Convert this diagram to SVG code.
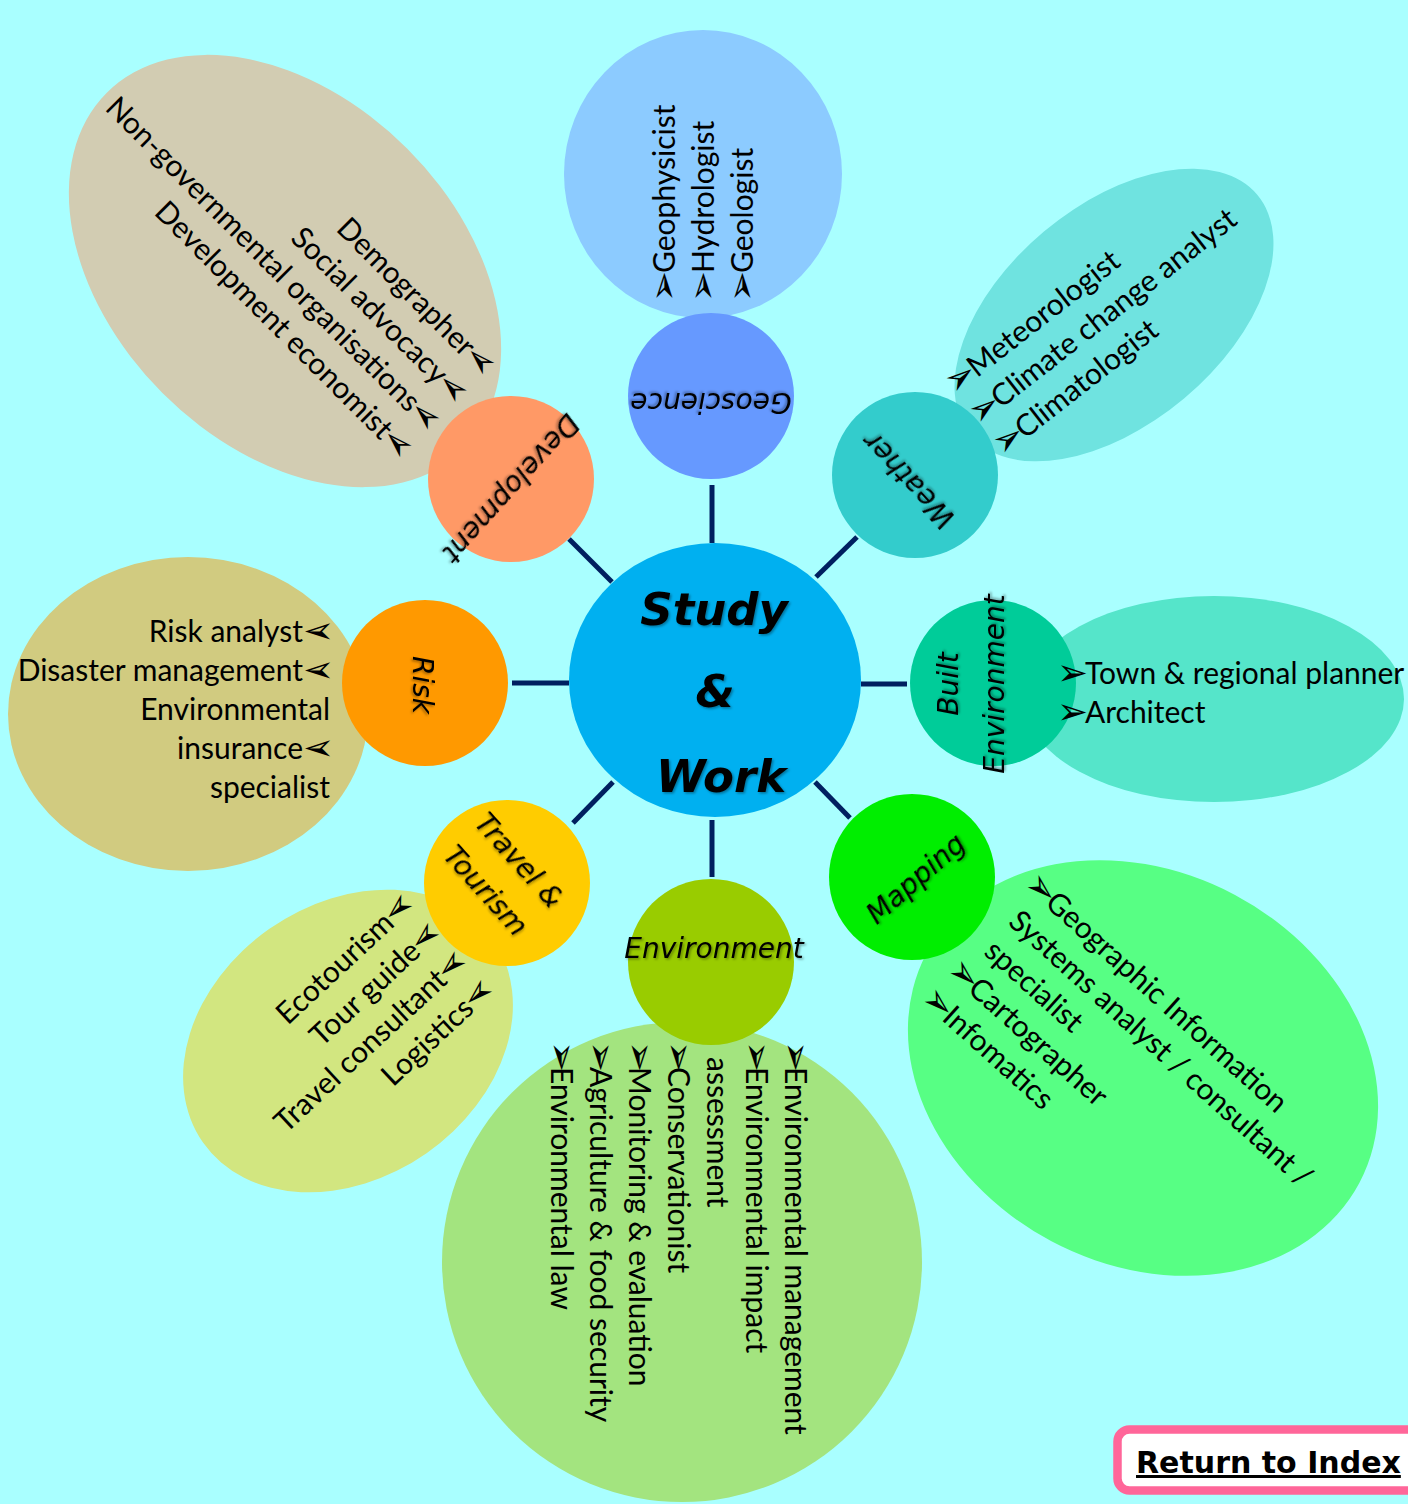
<svg xmlns="http://www.w3.org/2000/svg" width="1408" height="1504" viewBox="0 0 1408 1504">
  <defs>
    <filter id="sh" x="-20%" y="-40%" width="140%" height="180%">
      <feDropShadow dx="1.5" dy="1.5" stdDeviation="1.2" flood-color="#000" flood-opacity="0.35"/>
    </filter>
  </defs>
  <style>
    .it { font-family: Lato, "Liberation Sans", sans-serif; font-size: 30px; fill: #000; }
    .bu { font-family: "DejaVu Sans", sans-serif; font-size: 37px; fill: #000; }
    .lb { font-family: "DejaVu Sans", sans-serif; font-style: oblique; font-size: 28px; fill: #000; text-anchor: middle; }
    .ctr { font-family: "DejaVu Sans", sans-serif; font-style: oblique; font-weight: bold; font-size: 45px; fill: #000; text-anchor: middle; }
    .end { text-anchor: end; }
    .conn line { stroke: #002060; stroke-width: 5; }
  </style>

  <!-- background -->
  <rect x="0" y="0" width="1408" height="1504" fill="#A9FFFF"/>

  <!-- spokes from the hub to each topic -->
  <g id="connectors" class="conn">
    <line x1="712" y1="485" x2="712" y2="543"/>
    <line x1="569" y1="539" x2="612" y2="582"/>
    <line x1="857" y1="537" x2="816" y2="577"/>
    <line x1="512" y1="683" x2="569" y2="683"/>
    <line x1="861" y1="684" x2="907" y2="684"/>
    <line x1="613" y1="782" x2="573" y2="823"/>
    <line x1="815" y1="782" x2="850" y2="818"/>
    <line x1="712" y1="820" x2="712" y2="877"/>
  </g>

  <!-- Geoscience -->
  <g id="geoscience">
    <ellipse cx="703" cy="174" rx="139" ry="144" fill="#8CCBFF"/>
    <circle cx="711" cy="396" r="83" fill="#6699FF"/>
    <text class="lb" filter="url(#sh)" transform="translate(711,393) rotate(180)">Geoscience</text>
    <g transform="translate(675,298) rotate(-90)">
      <text class="it"><tspan class="bu" x="-4" y="1">➢</tspan><tspan x="25" y="0">Geophysicist</tspan></text>
      <text class="it"><tspan class="bu" x="-4" y="40">➢</tspan><tspan x="25" y="39">Hydrologist</tspan></text>
      <text class="it"><tspan class="bu" x="-4" y="79">➢</tspan><tspan x="25" y="78">Geologist</tspan></text>
    </g>
  </g>

  <!-- Development -->
  <g id="development">
    <ellipse cx="285" cy="271" rx="252" ry="173" transform="rotate(45 285 271)" fill="#D2CCB2"/>
    <circle cx="511" cy="479" r="83" fill="#FF9966"/>
    <text class="lb" filter="url(#sh)" transform="translate(504,482) rotate(132)">Development</text>
    <g transform="translate(481,376) rotate(45)">
      <text class="bu" y="1" transform="translate(4.3,0) scale(-1,1)">➢</text><text class="it end" x="-25" y="0">Demographer</text>
      <text class="bu" y="1" transform="translate(4.3,39) scale(-1,1)">➢</text><text class="it end" x="-25" y="39">Social advocacy</text>
      <text class="bu" y="1" transform="translate(4.3,78) scale(-1,1)">➢</text><text class="it end" x="-25" y="78">Non-governmental organisations</text>
      <text class="bu" y="1" transform="translate(4.3,117) scale(-1,1)">➢</text><text class="it end" x="-25" y="117">Development economist</text>
    </g>
  </g>

  <!-- Weather -->
  <g id="weather">
    <ellipse cx="1114" cy="315" rx="187" ry="109" transform="rotate(-40 1114 315)" fill="#6FE3E0"/>
    <circle cx="915" cy="475" r="83" fill="#33CCCC"/>
    <text class="lb" filter="url(#sh)" transform="translate(916,474) rotate(-133)">Weather</text>
    <g transform="translate(958,393) rotate(-38)">
      <text class="it"><tspan class="bu" x="-4" y="1">➢</tspan><tspan x="24" y="0">Meteorologist</tspan></text>
      <text class="it"><tspan class="bu" x="-4" y="40">➢</tspan><tspan x="24" y="39">Climate change analyst</tspan></text>
      <text class="it"><tspan class="bu" x="-4" y="79">➢</tspan><tspan x="24" y="78">Climatologist</tspan></text>
    </g>
  </g>

  <!-- Built Environment -->
  <g id="built-environment">
    <ellipse cx="1214" cy="699" rx="190" ry="103" fill="#55E5CA"/>
    <circle cx="993" cy="683" r="83" fill="#00CC99"/>
    <g transform="translate(958,684) rotate(-90)" filter="url(#sh)">
      <text class="lb" x="0" y="0">Built</text>
      <text class="lb" x="0" y="46">Environment</text>
    </g>
    <text class="it"><tspan class="bu" x="1057" y="685">➢</tspan><tspan x="1085" y="684">Town &amp; regional planner</tspan></text>
    <text class="it"><tspan class="bu" x="1057" y="724">➢</tspan><tspan x="1085" y="723">Architect</tspan></text>
  </g>

  <!-- Mapping -->
  <g id="mapping">
    <ellipse cx="1143" cy="1068" rx="245" ry="196" transform="rotate(28 1143 1068)" fill="#57FF84"/>
    <circle cx="912" cy="877" r="83" fill="#00EE00"/>
    <text class="lb" filter="url(#sh)" transform="translate(922,886) rotate(-41)">Mapping</text>
    <g transform="translate(1026,889) rotate(42)">
      <text class="it"><tspan class="bu" x="-4" y="1">➢</tspan><tspan x="24" y="0">Geographic Information</tspan></text>
      <text class="it" x="9" y="38.5">Systems analyst / consultant /</text>
      <text class="it" x="11" y="77">specialist</text>
      <text class="it"><tspan class="bu" x="-4" y="116.5">➢</tspan><tspan x="24" y="115.5">Cartographer</tspan></text>
      <text class="it"><tspan class="bu" x="-4" y="155">➢</tspan><tspan x="24" y="154">Infomatics</tspan></text>
    </g>
  </g>

  <!-- Environment -->
  <g id="environment">
    <circle cx="682" cy="1262" r="240" fill="#A3E47F"/>
    <circle cx="711" cy="962" r="83" fill="#99CC00"/>
    <text class="lb" filter="url(#sh)" x="714" y="958">Environment</text>
    <g transform="translate(785,1045) rotate(90)">
      <text class="it"><tspan class="bu" x="-4" y="1">➢</tspan><tspan x="22" y="0">Environmental management</tspan></text>
      <text class="it"><tspan class="bu" x="-4" y="40">➢</tspan><tspan x="22" y="39">Environmental impact</tspan></text>
      <text class="it" x="12" y="78">assessment</text>
      <text class="it"><tspan class="bu" x="-4" y="118">➢</tspan><tspan x="22" y="117">Conservationist</tspan></text>
      <text class="it"><tspan class="bu" x="-4" y="157">➢</tspan><tspan x="22" y="156">Monitoring &amp; evaluation</tspan></text>
      <text class="it"><tspan class="bu" x="-4" y="196">➢</tspan><tspan x="22" y="195">Agriculture &amp; food security</tspan></text>
      <text class="it"><tspan class="bu" x="-4" y="235">➢</tspan><tspan x="22" y="234">Environmental law</tspan></text>
    </g>
  </g>

  <!-- Travel & Tourism -->
  <g id="travel-tourism">
    <ellipse cx="348" cy="1041" rx="177" ry="137" transform="rotate(-35 348 1041)" fill="#D2E680"/>
    <circle cx="507" cy="883" r="83" fill="#FFCC00"/>
    <g transform="translate(512,867) rotate(48)" filter="url(#sh)">
      <text class="lb" x="0" y="0">Travel &amp;</text>
      <text class="lb" x="0" y="45">Tourism</text>
    </g>
    <g transform="translate(414,908) rotate(-43)">
      <text class="bu" y="1" transform="translate(4.3,0) scale(-1,1)">➢</text><text class="it end" x="-25" y="0">Ecotourism</text>
      <text class="bu" y="1" transform="translate(4.3,39) scale(-1,1)">➢</text><text class="it end" x="-25" y="39">Tour guide</text>
      <text class="bu" y="1" transform="translate(4.3,78) scale(-1,1)">➢</text><text class="it end" x="-25" y="78">Travel consultant</text>
      <text class="bu" y="1" transform="translate(4.3,117) scale(-1,1)">➢</text><text class="it end" x="-25" y="117">Logistics</text>
    </g>
  </g>

  <!-- Risk -->
  <g id="risk">
    <ellipse cx="188" cy="714" rx="180" ry="157" fill="#D1CB80"/>
    <circle cx="425" cy="683" r="83" fill="#FF9900"/>
    <text class="lb" filter="url(#sh)" transform="translate(413,685) rotate(90)">Risk</text>
    <text class="bu" y="1" transform="translate(334.3,642) scale(-1,1)">➢</text><text class="it end" x="303" y="642">Risk analyst</text>
    <text class="bu" y="1" transform="translate(334.3,681) scale(-1,1)">➢</text><text class="it end" x="303" y="681">Disaster management</text>
    <text class="it end" x="330" y="720">Environmental</text>
    <text class="bu" y="1" transform="translate(334.3,759) scale(-1,1)">➢</text><text class="it end" x="303" y="759">insurance</text>
    <text class="it end" x="330" y="798">specialist</text>
  </g>

  <!-- hub -->
  <g id="study-work">
    <ellipse cx="715" cy="680" rx="146" ry="137" fill="#00B0F0"/>
    <g filter="url(#sh)">
      <text class="ctr" x="714" y="625">Study</text>
      <text class="ctr" x="715" y="707">&amp;</text>
      <text class="ctr" x="721" y="792">Work</text>
    </g>
  </g>

  <!-- index button -->
  <g id="return-index">
    <rect x="1117.5" y="1429.5" width="330" height="61" rx="12" fill="#FFFFFF" stroke="#FF6699" stroke-width="8.5"/>
    <text x="1136" y="1473" font-family="'DejaVu Sans', sans-serif" font-weight="bold" font-size="30" text-decoration="underline" fill="#000">Return to Index</text>
  </g>
</svg>
